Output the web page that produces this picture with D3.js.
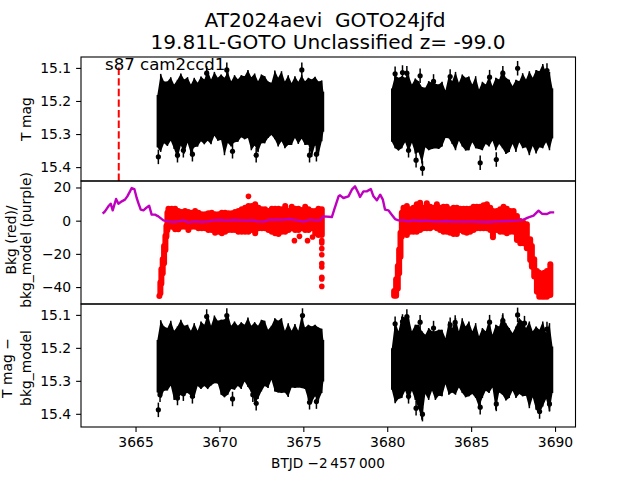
<!DOCTYPE html>
<html><head><meta charset="utf-8">
<script src="https://cdn.jsdelivr.net/npm/d3@7"></script>
<style>html,body{margin:0;padding:0;background:#fff}svg{display:block}text{font-family:"DejaVu Sans",sans-serif;fill:#000;white-space:pre}</style>
</head><body><svg id="c" width="640" height="480"></svg>
<script>
// ---- values ----
const titleLines = ["AT2024aevi  GOTO24jfd", "19.81L-GOTO Unclassified z= -99.0"];
const sectorLabel = "s87 cam2ccd1";
const xTicks = [3665, 3670, 3675, 3680, 3685, 3690];
const magTicks = [15.1, 15.2, 15.3, 15.4];
const bkgTicks = [20, 0, -20, -40];
const markerTime = 3664;

const t1 = [3666.3,3666.5,3666.7,3666.9,3667.1,3667.3,3667.5,3667.7,3667.9,3668.1,3668.3,3668.5,3668.7,3668.9,3669.1,3669.3,3669.5,3669.7,3669.9,3670.1,3670.3,3670.5,3670.7,3670.9,3671.1,3671.3,3671.5,3671.7,3671.9,3672.1,3672.3,3672.5,3672.7,3672.9,3673.1,3673.3,3673.5,3673.7,3673.9,3674.1,3674.3,3674.5,3674.7,3674.9,3675.1,3675.3,3675.5,3675.7,3675.9,3676.1,3676.2];
const t2 = [3680.27,3680.47,3680.67,3680.87,3681.07,3681.27,3681.47,3681.67,3681.87,3682.07,3682.27,3682.47,3682.67,3682.87,3683.07,3683.27,3683.47,3683.67,3683.87,3684.07,3684.27,3684.47,3684.67,3684.87,3685.07,3685.27,3685.47,3685.67,3685.87,3686.07,3686.27,3686.47,3686.67,3686.87,3687.07,3687.27,3687.47,3687.67,3687.87,3688.07,3688.27,3688.47,3688.67,3688.87,3689.07,3689.27,3689.47,3689.67,3689.85];

// T mag: bright and faint edge of the band
const magHi1 = [15.182,15.118,15.141,15.141,15.128,15.150,15.136,15.117,15.135,15.128,15.150,15.130,15.145,15.126,15.135,15.108,15.135,15.112,15.130,15.120,15.130,15.112,15.140,15.122,15.134,15.122,15.125,15.106,15.128,15.117,15.140,15.120,15.125,15.141,15.145,15.108,15.130,15.110,15.141,15.122,15.146,15.125,15.142,15.122,15.140,15.130,15.135,15.127,15.141,15.138,15.172];
const magLo1 = [15.340,15.354,15.328,15.336,15.320,15.345,15.374,15.335,15.359,15.326,15.359,15.340,15.338,15.322,15.331,15.320,15.331,15.305,15.320,15.318,15.364,15.327,15.338,15.325,15.323,15.310,15.316,15.312,15.349,15.335,15.355,15.328,15.328,15.312,15.303,15.316,15.338,15.322,15.343,15.333,15.333,15.312,15.330,15.314,15.333,15.332,15.369,15.334,15.364,15.322,15.293];
const magHi2 = [15.162,15.122,15.130,15.125,15.130,15.122,15.150,15.132,15.140,15.158,15.160,15.140,15.145,15.148,15.150,15.142,15.168,15.122,15.140,15.112,15.145,15.120,15.130,15.126,15.150,15.125,15.165,15.142,15.150,15.126,15.155,15.130,15.135,15.106,15.130,15.136,15.155,15.136,15.140,15.116,15.135,15.110,15.130,15.106,15.110,15.088,15.115,15.112,15.162];
const magLo2 = [15.323,15.343,15.350,15.343,15.325,15.354,15.326,15.359,15.355,15.389,15.340,15.349,15.345,15.343,15.345,15.338,15.312,15.313,15.330,15.349,15.320,15.338,15.350,15.349,15.325,15.343,15.345,15.349,15.330,15.338,15.320,15.349,15.330,15.343,15.360,15.354,15.330,15.354,15.325,15.343,15.340,15.364,15.336,15.359,15.340,15.343,15.325,15.349,15.313];
const magOutT = [3666.36,3667.5,3667.85,3668.39,3670.78,3672.19,3675.37,3675.78,3670.44,3674.91,3669.24,3680.47,3680.91,3681.17,3681.96,3681.27,3681.72,3682.1,3682.76,3683.75,3685.54,3686.5,3686.1,3686.89,3687.77,3689.52];
const magOutV = [15.369,15.364,15.349,15.361,15.352,15.364,15.364,15.361,15.106,15.106,15.116,15.118,15.114,15.116,15.124,15.349,15.379,15.404,15.141,15.126,15.387,15.377,15.128,15.116,15.101,15.108];

// T mag minus bkg_model
const detHi1 = [15.176,15.116,15.135,15.140,15.118,15.148,15.135,15.115,15.133,15.130,15.148,15.125,15.148,15.120,15.130,15.097,15.133,15.102,15.118,15.115,15.114,15.097,15.133,15.120,15.133,15.122,15.130,15.108,15.133,15.122,15.133,15.115,15.118,15.145,15.133,15.110,15.118,15.110,15.148,15.125,15.148,15.128,15.148,15.102,15.138,15.130,15.135,15.130,15.138,15.142,15.176];
const detLo1 = [15.335,15.352,15.330,15.329,15.315,15.358,15.355,15.342,15.340,15.337,15.345,15.352,15.316,15.325,15.316,15.325,15.314,15.307,15.308,15.342,15.350,15.342,15.325,15.327,15.316,15.325,15.302,15.319,15.335,15.363,15.355,15.332,15.316,15.322,15.297,15.332,15.335,15.337,15.335,15.349,15.320,15.322,15.320,15.322,15.325,15.358,15.365,15.347,15.360,15.337,15.302];
const detHi2 = [15.201,15.120,15.150,15.105,15.108,15.105,15.150,15.130,15.130,15.150,15.160,15.140,15.150,15.150,15.145,15.145,15.170,15.120,15.140,15.110,15.150,15.110,15.135,15.120,15.150,15.125,15.165,15.140,15.150,15.115,15.160,15.130,15.135,15.100,15.125,15.140,15.155,15.135,15.110,15.120,15.140,15.120,15.150,15.135,15.145,15.120,15.155,15.125,15.196];
const detLo2 = [15.327,15.368,15.355,15.352,15.330,15.358,15.330,15.358,15.385,15.418,15.340,15.358,15.330,15.358,15.345,15.347,15.310,15.342,15.335,15.342,15.320,15.337,15.350,15.347,15.340,15.352,15.380,15.352,15.330,15.337,15.320,15.388,15.335,15.342,15.360,15.352,15.330,15.352,15.340,15.347,15.345,15.383,15.350,15.388,15.400,15.378,15.355,15.393,15.337];
const detOutT = [3666.36,3666.46,3667.5,3667.85,3668.39,3670.78,3672.19,3675.37,3675.78,3671.99,3670.44,3674.95,3669.24,3680.47,3680.91,3681.17,3681.96,3681.27,3681.72,3682.1,3682.76,3683.75,3684.05,3685.54,3686.5,3686.1,3686.89,3687.77,3688.18,3689.52,3689.08,3689.67];
const detOutV = [15.388,15.342,15.352,15.339,15.347,15.355,15.368,15.365,15.363,15.342,15.102,15.102,15.105,15.127,15.120,15.105,15.122,15.347,15.383,15.401,15.140,15.130,15.123,15.380,15.370,15.122,15.117,15.100,15.125,15.143,15.393,15.370];

// background (red)
const bkgT1 = [3666.42,3666.48,3666.54,3666.62,3666.70,3666.78,3666.84,3666.90,3666.96,3667.16,3667.36,3667.55,3667.75,3667.95,3668.15,3668.35,3668.55,3668.75,3668.95,3669.15,3669.34,3669.54,3669.74,3669.94,3670.14,3670.34,3670.54,3670.74,3670.93,3671.13,3671.33,3671.53,3671.73,3671.93,3672.13,3672.33,3672.53,3672.72,3672.92,3673.12,3673.32,3673.52,3673.72,3673.92,3674.12,3674.31,3674.51,3674.71,3674.91,3675.11,3675.31,3675.51,3675.71,3675.9,3676.1];
const bkgHi1 = [-43.6,-35.5,-27.5,-21.5,-13.5,-7.4,-1.4,6.6,9.04,9.04,9.04,7.63,7.03,7.63,7.03,6.63,7.63,6.63,5.62,5.62,6.23,6.63,5.62,5.62,6.63,6.63,6.23,6.23,7.03,7.63,8.64,9.64,10.64,10.64,11.65,9.64,8.64,8.64,7.63,9.04,9.04,9.04,8.64,10.64,7.63,10.24,9.04,9.04,8.23,10.24,8.64,7.63,7.63,9.04,8.64];
const bkgLo1 = [-47,-45.6,-39.6,-33.5,-27.5,-19.5,-11.4,-7.4,-5.42,-5.42,-7.03,-7.03,-5.42,-5.42,-7.43,-5.42,-5.42,-6.42,-6.42,-6.42,-7.43,-7.43,-9.03,-8.43,-9.44,-8.43,-7.43,-7.43,-7.43,-8.43,-8.43,-8.43,-8.43,-7.43,-9.44,-6.42,-6.42,-6.42,-7.43,-8.43,-9.44,-9.84,-8.43,-8.43,-7.43,-6.42,-7.43,-7.43,-6.42,-7.43,-7.43,-6.42,-9.44,-10.44,-10.44];
const bkgT2 = [3680.41,3680.53,3680.63,3680.71,3680.79,3680.87,3680.97,3681.17,3681.37,3681.56,3681.76,3681.96,3682.16,3682.36,3682.56,3682.76,3682.96,3683.15,3683.35,3683.55,3683.75,3683.95,3684.15,3684.35,3684.55,3684.74,3684.94,3685.14,3685.34,3685.54,3685.74,3685.94,3686.14,3686.30,3686.53,3686.73,3686.93,3687.13,3687.33,3687.53,3687.73,3687.93,3688.12,3688.32,3688.52,3688.62,3688.76,3688.92,3689.06,3689.22,3689.36,3689.52,3689.72];
const bkgHi2 = [-40.6,-33.5,-25.5,-15.5,-5.4,6.6,9.64,10.64,8.64,9.64,11.65,12.65,9.64,12.25,10.24,9.64,11.65,9.64,10.24,10.24,8.64,9.64,9.64,9.04,9.04,9.04,9.04,10.24,10.24,10.24,11.05,11.65,9.64,7.63,7.63,8.64,10.24,9.04,7.63,7.63,4.62,1.61,0.6,-0.4,-9.44,-13.45,-21.5,-28.5,-29.5,-32.5,-29.5,-28.5,-24.5];
const bkgLo2 = [-47,-47,-42.6,-33.5,-23.5,-11.4,-9.44,-10.44,-8.43,-8.43,-8.43,-7.43,-6.42,-6.42,-6.42,-5.42,-6.42,-7.43,-8.43,-8.43,-9.03,-9.84,-9.84,-7.43,-8.43,-9.03,-8.43,-7.43,-6.42,-6.42,-6.42,-6.42,-7.43,-11.85,-7.43,-8.43,-8.43,-9.44,-8.43,-8.43,-13.45,-15.46,-15.46,-18.47,-25.5,-29.5,-35.5,-44.6,-47.6,-47.6,-47.6,-47.6,-46.6];
const bkgOutT = [3671.73,3674.47,3674.77,3675.25,3675.55,3676.1,3676.1,3676.1,3676.1,3676.1,3676.1,3676.1,3676.1,3676.1];
const bkgOutV = [14.66,-12.05,-9.44,-12.05,-9.84,-12.05,-13.45,-16.87,-20.5,-25.9,-27.9,-34.1,-35.1,-39.6];

// bkg_model (purple)
const modelT = [3663.04,3663.18,3663.38,3663.52,3663.64,3663.84,3663.98,3664.18,3664.37,3664.51,3664.67,3664.77,3664.93,3665.07,3665.17,3665.31,3665.47,3665.63,3665.81,3665.96,3666.16,3666.36,3666.66,3666.96,3667.26,3667.55,3667.85,3668.15,3668.55,3668.95,3669.34,3669.64,3670.04,3670.44,3670.84,3671.23,3671.63,3672.03,3672.23,3672.62,3673.02,3673.42,3673.82,3674.21,3674.61,3675.01,3675.41,3675.71,3676.0,3676.2,3676.7,3676.84,3677.1,3677.19,3677.39,3677.69,3677.89,3678.08,3678.28,3678.38,3678.58,3678.78,3679.02,3679.18,3679.38,3679.58,3679.74,3679.87,3680.07,3680.27,3680.47,3680.67,3680.97,3681.27,3681.56,3681.96,3682.36,3682.76,3683.15,3683.55,3683.95,3684.55,3685.14,3685.74,3686.14,3686.53,3687.13,3687.73,3688.12,3688.42,3688.72,3689.02,3689.22,3689.52,3689.72,3689.95];
const modelV = [4.22,5.62,8.64,10.24,6.23,13.05,10.24,11.65,12.65,14.66,17.67,19.68,19.08,13.66,10.64,6.63,6.23,7.63,9.04,3.62,3.62,2.61,0.2,-0.4,-0.8,-0.4,0.2,-1.0,-0.4,-0.8,-0.4,0.2,0.4,0,0.4,0.2,0,0.2,-0.4,-0.6,0.6,0.6,0.6,1.0,0.2,-0.6,0.6,0.2,0.2,2.61,2.2,6.63,14.66,15.26,13.66,14.66,18.68,20.68,16.67,14.26,17.67,17.67,19.08,14.66,12.25,15.66,12.65,6.63,6.23,3.62,1.0,0.2,0.2,-0.4,0.2,-0.2,0,-0.4,-0.4,-0.2,-0.6,-0.6,-0.6,-0.8,-0.8,-0.4,-0.2,0,0.6,2.0,3.0,6.0,4.2,4.0,5.0,5.0];

// ---- drawing ----
const svg = d3.select("#c");
const L = 81, R = 575.5;
const x = d3.scaleLinear().domain([3661.75, 3691.22]).range([L, R]);
const panels = [
  {top:57, bot:181, dom:[15.067,15.442], ticks:magTicks},
  {top:181, bot:304, dom:[23.9,-50.2], ticks:bkgTicks},
  {top:304, bot:427, dom:[15.067,15.44], ticks:magTicks}
];
panels.forEach(p => p.y = d3.scaleLinear().domain(p.dom).range([p.top, p.bot]));
const fmtMag = d3.format(".1f");
const minus = v => String(v).replace("-", "\u2212");

function band(g, y, T, hi, lo) {
  const idx = d3.range(T.length);
  g.append("path").attr("fill","#000")
    .attr("d", d3.area().x(i=>x(T[i])).y0(i=>y(hi[i])).y1(i=>y(lo[i]))(idx));
  g.selectAll(null).data(idx).join("line")
    .attr("x1",i=>x(T[i])).attr("x2",i=>x(T[i]))
    .attr("y1",i=>y(hi[i])).attr("y2",i=>y(lo[i]))
    .attr("stroke","#000").attr("stroke-width",1.5);
}
function errs(g, y, T, V) {
  const idx = d3.range(T.length);
  g.selectAll(null).data(idx).join("line")
    .attr("x1",i=>x(T[i])).attr("x2",i=>x(T[i]))
    .attr("y1",i=>y(V[i]-0.022)).attr("y2",i=>y(V[i]+0.022))
    .attr("stroke","#000").attr("stroke-width",1.5);
  g.selectAll(null).data(idx).join("circle")
    .attr("cx",i=>x(T[i])).attr("cy",i=>y(V[i])).attr("r",2.6).attr("fill","#000");
}
function redBand(g, y, T, hi, lo) {
  const r = 3;
  g.selectAll(null).data(d3.range(T.length)).join("line")
    .attr("x1",i=>x(T[i])).attr("x2",i=>x(T[i]))
    .attr("y1",i=>y(hi[i])+r).attr("y2",i=>Math.max(y(lo[i])-r, y(hi[i])+r))
    .attr("stroke","#f00").attr("stroke-width",2*r).attr("stroke-linecap","round");
}

// panel 1
let g = svg.append("g");
band(g, panels[0].y, t1, magHi1, magLo1);
band(g, panels[0].y, t2, magHi2, magLo2);
errs(g, panels[0].y, magOutT, magOutV);
g.append("line").attr("x1",x(markerTime)).attr("x2",x(markerTime))
  .attr("y1",panels[0].y(15.442)).attr("y2",panels[0].y(15.09))
  .attr("stroke","#f00").attr("stroke-width",2).attr("stroke-dasharray","7.4,3.2");

// panel 2
g = svg.append("g");
redBand(g, panels[1].y, bkgT1, bkgHi1, bkgLo1);
redBand(g, panels[1].y, bkgT2, bkgHi2, bkgLo2);
g.selectAll(null).data(d3.range(bkgOutT.length)).join("circle")
  .attr("cx",i=>x(bkgOutT[i])).attr("cy",i=>panels[1].y(bkgOutV[i])).attr("r",2.8).attr("fill","#f00");
g.append("path").attr("fill","none").attr("stroke","#bf00bf").attr("stroke-width",2.4)
  .attr("stroke-linejoin","round")
  .attr("d", d3.line().x(i=>x(modelT[i])).y(i=>panels[1].y(modelV[i]))(d3.range(modelT.length)));

// panel 3
g = svg.append("g");
band(g, panels[2].y, t1, detHi1, detLo1);
band(g, panels[2].y, t2, detHi2, detLo2);
errs(g, panels[2].y, detOutT, detOutV);

// frames and axes
panels.forEach((p,k) => {
  svg.append("rect").attr("x",L).attr("y",p.top).attr("width",R-L).attr("height",p.bot-p.top)
    .attr("fill","none").attr("stroke","#000").attr("stroke-width",1.1);
  const ax = svg.append("g").attr("transform",`translate(${L},0)`)
    .call(d3.axisLeft(p.y).tickValues(p.ticks).tickSize(4.9).tickPadding(4.9)
      .tickFormat(k===1 ? minus : fmtMag));
  ax.select(".domain").remove();
  ax.selectAll("line").attr("stroke","#000").attr("stroke-width",1.1);
  ax.selectAll("text").attr("font-size",13.9).attr("font-family","DejaVu Sans");
});
const ax = svg.append("g").attr("transform",`translate(0,427)`)
  .call(d3.axisBottom(x).tickValues(xTicks).tickFormat(d3.format("d")).tickSize(4.9).tickPadding(4.9));
ax.select(".domain").remove();
ax.selectAll("line").attr("stroke","#000").attr("stroke-width",1.1);
ax.selectAll("text").attr("font-size",13.9).attr("font-family","DejaVu Sans");

// texts
svg.selectAll(null).data(titleLines).join("text")
  .attr("x",(d,i)=>i===0?325:328).attr("y",(d,i)=>27+i*22).attr("text-anchor","middle").attr("font-size",20.1).text(d=>d);
svg.append("text").attr("x",105).attr("y",70).attr("font-size",16.6).text(sectorLabel);
svg.append("text").attr("x",328).attr("y",468).attr("text-anchor","middle").attr("font-size",13.6)
  .text("BTJD \u22122\u2009457\u2009000");
function ylab(cy, lines) {
  const t = svg.append("text").attr("transform",`translate(0,${cy}) rotate(-90)`)
    .attr("text-anchor","middle").attr("font-size",13.9);
  lines.forEach(l=>t.append("tspan").attr("x",0).attr("y",l[1]).text(l[0]));
}
ylab(119, [["T mag",30.5]]);
ylab(240, [["Bkg (red)/",15.7],["bkg_model (purple)",30.5]]);
ylab(368, [["T mag \u2212",11.5],["bkg_model",30.5]]);
</script></body></html>
